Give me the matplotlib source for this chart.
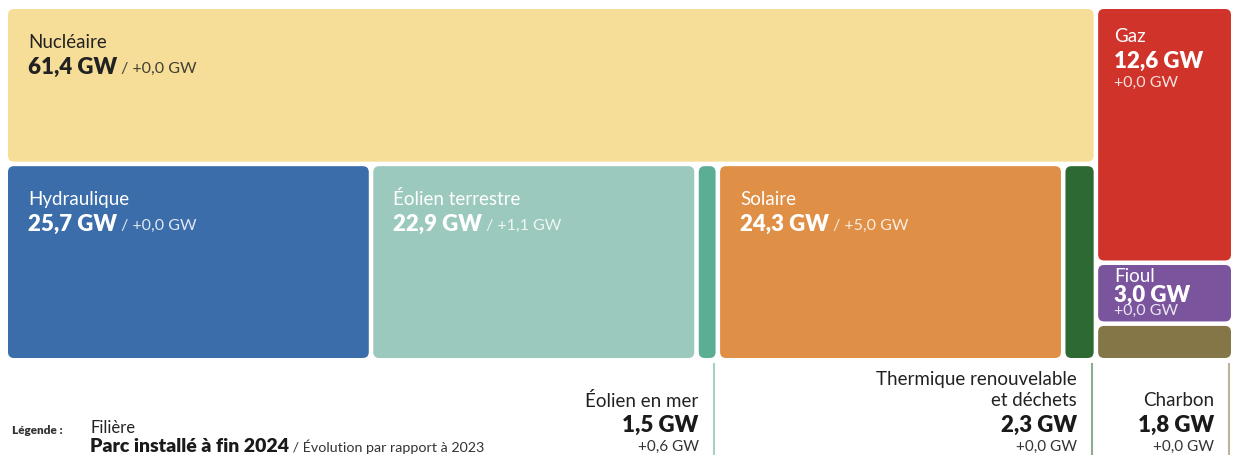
import matplotlib
matplotlib.use("Agg")
import matplotlib.pyplot as plt
from matplotlib.patches import FancyBboxPatch

plt.rcParams['font.family'] = ['Lato', 'DejaVu Sans']

# Parc installé à fin 2024 (GW) et évolution par rapport à 2023
filieres = ["Nucléaire", "Hydraulique", "Éolien terrestre", "Éolien en mer", "Solaire",
            "Thermique renouvelable\net déchets", "Gaz", "Fioul", "Charbon"]
parc = [61.4, 25.7, 22.9, 1.5, 24.3, 2.3, 12.6, 3.0, 1.8]
evolution = [0.0, 0.0, 1.1, 0.6, 5.0, 0.0, 0.0, 0.0, 0.0]
couleurs = ["#F6DE98", "#3A6DAA", "#9BC9BD", "#5BAE94", "#E08F46",
            "#2D6A33", "#CF3329", "#7A549D", "#857648"]
texte_fonce = ["Nucléaire"]

# structure du treemap : bloc gauche (nucléaire / renouvelables), bloc droit (fossiles)
haut_gauche = ["Nucléaire"]
bas_gauche = ["Hydraulique", "Éolien terrestre", "Éolien en mer", "Solaire",
              "Thermique renouvelable\net déchets"]
droite = ["Gaz", "Fioul", "Charbon"]

val = dict(zip(filieres, parc))
evo = dict(zip(filieres, evolution))
col = dict(zip(filieres, couleurs))


def gw(v):
    return f"{v:.1f}".replace(".", ",") + " GW"


def delta(v):
    return f"+{v:.1f}".replace(".", ",") + " GW"


fig = plt.figure(figsize=(12.33, 4.57), dpi=100)
ax = fig.add_axes([0, 0, 1, 1])
ax.set_xlim(0, 1233)
ax.set_ylim(457, 0)
ax.axis('off')

X0, Y0, W, H, GAP, R = 8, 9, 1227.5, 353.5, 4.5, 6
F_NOM, F_VAL, F_EVO = 13.5, 16, 11.5

total = sum(parc)
tot_gauche = sum(val[n] for n in haut_gauche + bas_gauche)
tot_droite = sum(val[n] for n in droite)
w_gauche = W * tot_gauche / total

rects = {}
# bloc gauche
h_haut = H * sum(val[n] for n in haut_gauche) / tot_gauche
x = X0
for n in haut_gauche:
    w = w_gauche * val[n] / sum(val[m] for m in haut_gauche)
    rects[n] = (x, Y0, w, h_haut)
    x += w
x = X0
tot_bas = sum(val[n] for n in bas_gauche)
for n in bas_gauche:
    w = w_gauche * val[n] / tot_bas
    rects[n] = (x, Y0 + h_haut, w, H - h_haut)
    x += w
# bloc droit
y = Y0
for n in droite:
    h = H * val[n] / tot_droite
    rects[n] = (X0 + w_gauche, y, W - w_gauche, h)
    y += h

for n in filieres:
    x, y, w, h = rects[n]
    w, h = w - GAP, h - GAP
    ax.add_patch(FancyBboxPatch((x, y), w, h,
                                boxstyle=f"round,pad=0,rounding_size={R}",
                                fc=col[n], ec='none'))
    tc = '#222222' if n in texte_fonce else 'white'
    if w < 40 or h < 40:
        # étiquette sous le graphique
        lx = x + w - 2
        ax.plot([lx, lx], [363, 455], color=col[n], alpha=0.55, lw=1.5,
                solid_capstyle='butt')
        tx = lx - 15
        ax.text(tx, 447, delta(evo[n]), ha='right', va='center', fontsize=11,
                color='#333333')
        ax.text(tx, 425, gw(val[n]), ha='right', va='center', fontsize=16,
                fontweight='heavy', color='#1a1a1a')
        lignes = n.split("\n")[::-1]
        for k, l in enumerate(lignes):
            ax.text(tx, 401 - 21 * k, l, ha='right', va='center', fontsize=13.5,
                    color='#222222')
        continue
    if w > 200:
        tx = x + 20
        ax.text(tx, y + 33, n, ha='left', va='center', fontsize=F_NOM, color=tc)
        t = ax.text(tx, y + 58.5, gw(val[n]), ha='left', va='center', fontsize=F_VAL,
                    fontweight='heavy', color=tc)
        ax.annotate(" / " + delta(evo[n]), xy=(1, 0.45), xycoords=t, ha='left',
                    va='center', fontsize=F_EVO, color=tc, alpha=0.85)
    else:
        tx = x + 16
        dy = (28, 52, 74) if h > 80 else (12, 30, 46)
        ax.text(tx, y + dy[0], n, ha='left', va='center', fontsize=F_NOM, color=tc)
        ax.text(tx, y + dy[1], gw(val[n]), ha='left', va='center', fontsize=F_VAL,
                fontweight='heavy', color=tc)
        ax.text(tx, y + dy[2], delta(evo[n]), ha='left', va='center',
                fontsize=F_EVO, color=tc, alpha=0.85)

# légende
ax.text(12, 430, "Légende :", ha='left', va='center', fontsize=8.5,
        fontweight='heavy', color='#333333')
ax.text(90, 428, "Filière", ha='left', va='center', fontsize=12, color='#222222')
t = ax.text(90, 446, "Parc installé à fin 2024", ha='left', va='center',
            fontsize=14, fontweight='heavy', color='#1a1a1a')
ax.annotate(" / Évolution par rapport à 2023", xy=(1, 0.45), xycoords=t,
            ha='left', va='center', fontsize=10.3, color='#333333')

fig.savefig("out.png", dpi=100, facecolor='white')
